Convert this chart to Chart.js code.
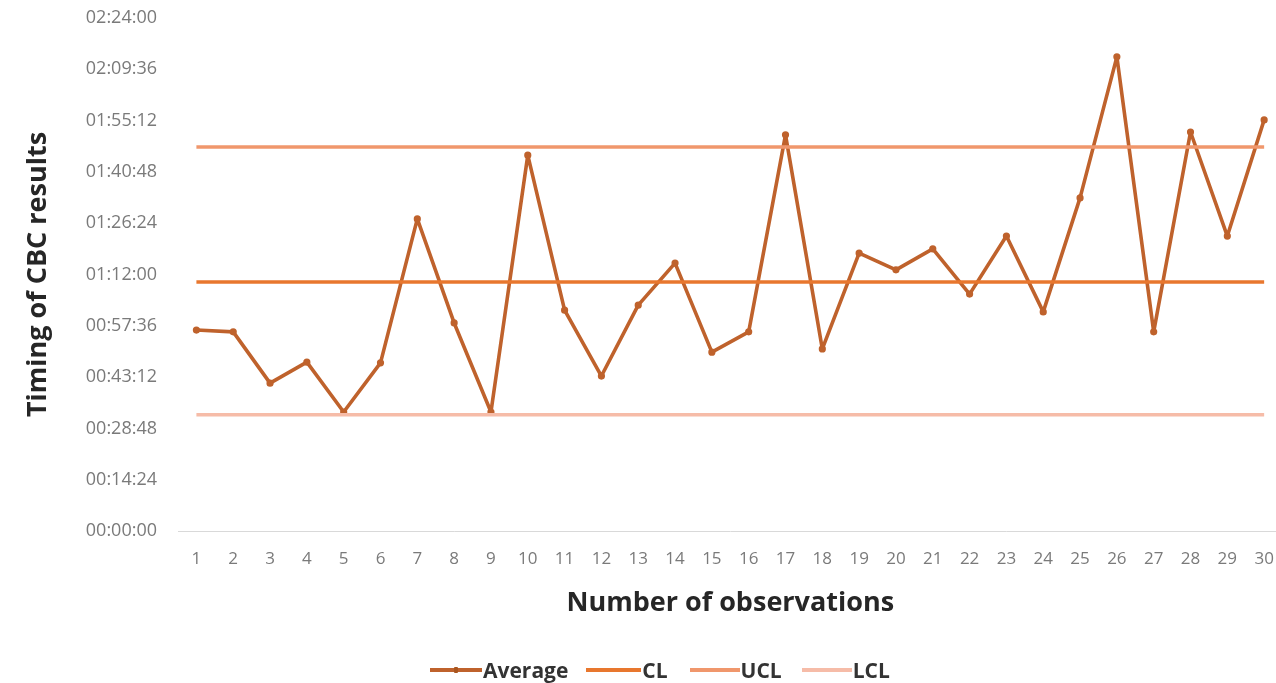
<!DOCTYPE html>
<html>
<head>
<meta charset="utf-8">
<script src="https://cdn.jsdelivr.net/npm/chart.js@4.4.1/dist/chart.umd.min.js"></script>
<style>
html,body{margin:0;padding:0;background:#fff;overflow:hidden;width:1276px;height:683px;}
#wrap{position:absolute;left:0;top:0;width:1292px;height:683px;}
#legend{position:absolute;top:655px;left:430px;height:30px;display:flex;align-items:center;font:bold 21px 'Open Sans',sans-serif;color:#333;white-space:nowrap;}
.mk{height:4px;position:relative;}
.mk i{position:absolute;left:50%;top:50%;width:4px;height:6px;margin:-3px 0 0 -2px;border-radius:1px;}
</style>
</head>
<body>
<div id="wrap"><canvas id="c" width="1292" height="683"></canvas></div>
<div id="legend"></div>
<script>
// ---- data (minutes) ----
const observations = ['1','2','3','4','5','6','7','8','9','10','11','12','13','14','15','16','17','18','19','20','21','22','23','24','25','26','27','28','29','30'];
const averageMinutes = [56.4, 55.9, 41.5, 47.4, 33.4, 47.2, 87.6, 58.4, 33.4, 105.5,
                        62.0, 43.5, 63.4, 75.2, 50.2, 55.9, 111.2, 51.1, 78.0, 73.3,
                        79.2, 66.5, 82.8, 61.5, 93.5, 133.1, 55.9, 112.0, 82.8, 115.4];
const clMinutes = 69.9;
const uclMinutes = 107.8;
const lclMinutes = 32.6;
const yTickMinutes = [0, 14.4, 28.8, 43.2, 57.6, 72, 86.4, 100.8, 115.2, 129.6, 144];
const seriesNames = ['Average', 'CL', 'UCL', 'LCL'];
const seriesColors = ['#BF622C', '#E8772E', '#F0976C', '#F6BCA8'];

function fmt(m){
  const s = Math.round(m*60);
  const h = Math.floor(s/3600), mm = Math.floor((s%3600)/60), ss = s%60;
  return [h,mm,ss].map(v=>String(v).padStart(2,'0')).join(':');
}
function limitLine(v){
  return [{x: observations[0], y: v}, {x: observations[observations.length-1], y: v}];
}

const FONT = "'Open Sans', sans-serif";
new Chart(document.getElementById('c'), {
  type: 'line',
  data: {
    labels: observations,
    datasets: [
      {label: seriesNames[0], data: averageMinutes, borderColor: seriesColors[0], backgroundColor: seriesColors[0],
       borderWidth: 3.6, borderJoinStyle: 'round', borderCapStyle: 'round',
       pointRadius: 1.8, pointHoverRadius: 1.8, tension: 0, order: 3},
      {label: seriesNames[1], data: limitLine(clMinutes), borderColor: seriesColors[1], borderWidth: 3.5, pointRadius: 0, order: 2},
      {label: seriesNames[2], data: limitLine(uclMinutes), borderColor: seriesColors[2], borderWidth: 3.5, pointRadius: 0, order: 1},
      {label: seriesNames[3], data: limitLine(lclMinutes), borderColor: seriesColors[3], borderWidth: 3.5, pointRadius: 0, order: 0}
    ]
  },
  options: {
    responsive: false,
    animation: false,
    layout: {padding: {top: 18, right: 8, bottom: 63.2, left: 0}},
    plugins: {legend: {display: false}, tooltip: {enabled: false}},
    scales: {
      x: {
        offset: true,
        grid: {display: false, drawTicks: false},
        border: {display: true, color: '#d9d9d9', width: 1},
        ticks: {color: '#7a7a7a', font: {family: FONT, size: 17}, padding: 18, autoSkip: false, maxRotation: 0},
        title: {display: true, text: 'Number of observations', color: '#262626',
                font: {family: FONT, size: 27, weight: 'bold'}, padding: {top: 0, bottom: 0}}
      },
      y: {
        min: 0, max: 144,
        afterBuildTicks: (s) => { s.ticks = yTickMinutes.map(v => ({value: v})); },
        afterFit: (s) => { s.width = 178; },
        grid: {display: false, drawTicks: true, tickLength: 18},
        border: {display: false},
        ticks: {color: '#7a7a7a', font: {family: FONT, size: 18}, padding: 3, callback: (v) => fmt(v)},
        title: {display: true, text: 'Timing of CBC results', color: '#262626',
                font: {family: FONT, size: 27, weight: 'bold'}, padding: {top: 22, bottom: 0}}
      }
    }
  }
});

// legend
const lg = document.getElementById('legend');
const mkW = [52, 55, 50, 50];
const gaps = [0, 18, 22, 20];
seriesNames.forEach((n, i) => {
  const m = document.createElement('div');
  m.className = 'mk';
  m.style.width = mkW[i] + 'px';
  m.style.background = seriesColors[i];
  m.style.marginLeft = gaps[i] + 'px';
  if (i === 0) { const d = document.createElement('i'); d.style.background = '#A9561F'; m.appendChild(d); }
  const t = document.createElement('span');
  t.textContent = n;
  t.style.marginLeft = '1px';
  lg.appendChild(m); lg.appendChild(t);
});
</script>
</body>
</html>
